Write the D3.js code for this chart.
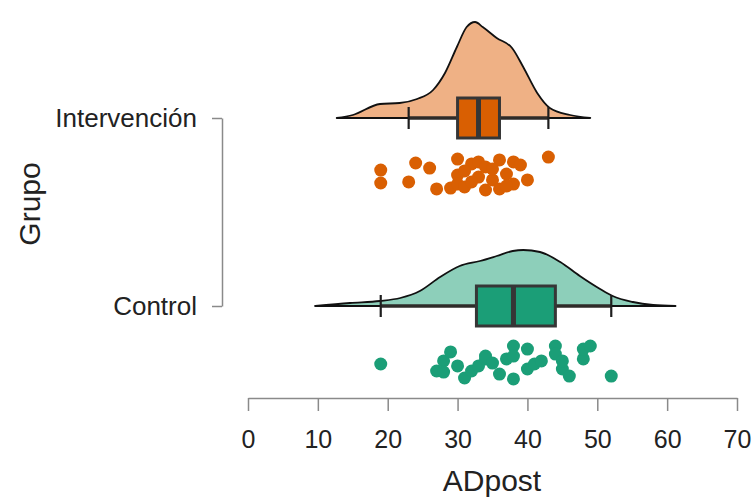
<!DOCTYPE html>
<html>
<head>
<meta charset="utf-8">
<script src="https://cdn.jsdelivr.net/npm/d3@7"></script>
<style>
  html, body { margin: 0; padding: 0; background: #fff; }
  svg { display: block; font-family: "Liberation Sans", Arial, sans-serif; }
</style>
</head>
<body>
<svg id="chart" width="753" height="500"></svg>
<script>
// ---------- DATA ----------
const groups = ["Intervención", "Control"];
const xTicks = [0, 10, 20, 30, 40, 50, 60, 70];

// raw observations (ADpost) and vertical jitter (-1..1) for each point
const intervValues = [19,19,23,24,26,27,29,30,30,30,31,32,33,33,34,34,35,36,36,37,38,38,39,40,43,31,32,35,37];
const intervJitter = [-0.22,0.5,0.44,-0.61,-0.33,0.83,0.78,-0.83,0.06,0.56,0.72,-0.56,0.17,-0.67,0.89,-0.39,0.33,-0.78,0.83,0,-0.67,0.56,-0.5,0.33,-0.94,-0.17,0.44,-0.28,0.67];
const controlValues = [19,27,28,28,29,30,31,32,33,34,34,35,36,37,38,38,38,40,40,41,42,44,44,45,45,46,48,48,49,52];
const controlJitter = [0.11,0.5,-0.06,0.56,-0.56,0.22,0.89,0.5,0.22,-0.17,-0.33,0.06,0.67,-0.17,-0.89,0.94,-0.33,-0.72,0.39,0.11,-0.06,-0.89,-0.44,0.39,-0.06,0.78,-0.17,-0.72,-0.89,0.78];

// density curves
const intervDensX = [12.7,15.0,18.9,21.7,24.2,26.5,28.2,29.9,31.3,32.5,33.6,35.6,37.8,39.4,41.4,43.2,46.1,49.0];
const intervDensY = [0,0.003,0.014,0.015,0.019,0.028,0.045,0.071,0.091,0.096,0.091,0.080,0.070,0.051,0.025,0.010,0.003,0];
const controlDensX = [9.6,14.6,18.9,21.8,24.6,27.5,30.3,33.2,35.6,37.9,39.4,41.8,44.7,47.5,50.4,52.2,55.1,58.0,61.2];
const controlDensY = [0,0.003,0.005,0.008,0.015,0.029,0.040,0.045,0.050,0.055,0.056,0.054,0.044,0.030,0.017,0.010,0.004,0.001,0];

// boxplot statistics: [lowerWhisker, Q1, median, Q3, upperWhisker]
const intervBox = [23, 30, 33, 36, 43];
const controlBox = [19, 32.7, 38, 44, 52];

// ---------- BUILD ----------
const series = [
  { name: "Intervención", values: intervValues, jitter: intervJitter, densX: intervDensX, densY: intervDensY, box: intervBox,
    dark: "#d95f02", light: "#efb185" },
  { name: "Control", values: controlValues, jitter: controlJitter, densX: controlDensX, densY: controlDensY, box: controlBox,
    dark: "#1b9e77", light: "#8dcfba" }
];

const svg = d3.select("#chart");
const x = d3.scaleLinear().domain([0, 70]).range([248, 737]);
const y = d3.scalePoint().domain(groups).range([118, 306]).padding(0);
const dens = d3.scaleLinear().domain([0, 0.1]).range([0, 100]);

const textColor = "#222";
const axisColor = "#8a8a8a";

// Y axis
const yAxis = svg.append("g")
  .attr("transform", "translate(222,0)")
  .call(d3.axisLeft(y).tickSize(10).tickSizeOuter(0).tickPadding(15));
yAxis.select(".domain").attr("stroke", axisColor).attr("stroke-width", 1.5);
yAxis.selectAll(".tick line").attr("stroke", axisColor).attr("stroke-width", 1.5);
yAxis.selectAll(".tick text").attr("font-size", 26).attr("fill", textColor)
  .attr("font-family", "Liberation Sans, Arial, sans-serif");

// X axis
const xAxis = svg.append("g")
  .attr("transform", "translate(0,398)")
  .call(d3.axisBottom(x).tickValues(xTicks).tickSize(13).tickSizeOuter(0).tickPadding(19));
xAxis.select(".domain").attr("stroke", axisColor).attr("stroke-width", 1.5);
xAxis.selectAll(".tick line").attr("stroke", axisColor).attr("stroke-width", 1.5);
xAxis.selectAll(".tick text").attr("font-size", 25).attr("fill", textColor)
  .attr("font-family", "Liberation Sans, Arial, sans-serif");

// Axis titles
svg.append("text").attr("x", 492).attr("y", 491).attr("text-anchor", "middle")
  .attr("font-size", 30).attr("fill", textColor).text("ADpost");
svg.append("text").attr("transform", "translate(40,204) rotate(-90)").attr("text-anchor", "middle")
  .attr("font-size", 30).attr("fill", textColor).text("Grupo");

// Raincloud per group
const area = d3.area().curve(d3.curveMonotoneX);

series.forEach(s => {
  const cy = y(s.name);
  const pts = s.densX.map((v, i) => [v, s.densY[i]]);

  // density (half violin)
  svg.append("path")
    .datum(pts)
    .attr("d", area.x(d => x(d[0])).y0(cy).y1(d => cy - dens(d[1])))
    .attr("fill", s.light)
    .attr("stroke", "#111")
    .attr("stroke-width", 1.8)
    .attr("stroke-linejoin", "round");

  const [lw, q1, med, q3, uw] = s.box;
  const bh = 20;
  const g = svg.append("g");
  // whiskers
  g.append("line").attr("x1", x(lw)).attr("x2", x(q1)).attr("y1", cy).attr("y2", cy)
    .attr("stroke", "#2e2b28").attr("stroke-width", 3.6);
  g.append("line").attr("x1", x(q3)).attr("x2", x(uw)).attr("y1", cy).attr("y2", cy)
    .attr("stroke", "#2e2b28").attr("stroke-width", 3.6);
  // caps
  [lw, uw].forEach(v => {
    g.append("line").attr("x1", x(v)).attr("x2", x(v)).attr("y1", cy - 11).attr("y2", cy + 11)
      .attr("stroke", "#1e1e1e").attr("stroke-width", 2.2);
  });
  // box
  g.append("rect").attr("x", x(q1)).attr("y", cy - bh).attr("width", x(q3) - x(q1)).attr("height", 2 * bh)
    .attr("fill", s.dark).attr("stroke", "#363636").attr("stroke-width", 3);
  // median
  g.append("line").attr("x1", x(med)).attr("x2", x(med)).attr("y1", cy - bh).attr("y2", cy + bh)
    .attr("stroke", "#363636").attr("stroke-width", 5);

  // rain points
  svg.append("g").selectAll("circle")
    .data(s.values.map((v, i) => ({ v, j: s.jitter[i] })))
    .join("circle")
    .attr("cx", d => x(d.v))
    .attr("cy", d => cy + 56 + d.j * 18)
    .attr("r", 6.5)
    .attr("fill", s.dark);
});
</script>
</body>
</html>
